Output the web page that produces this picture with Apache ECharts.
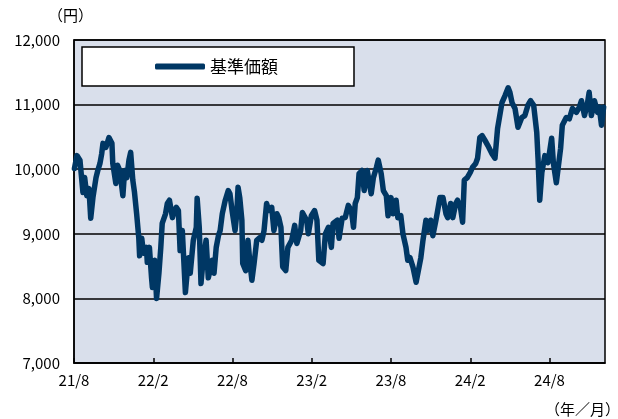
<!DOCTYPE html>
<html><head><meta charset="utf-8">
<script src="https://cdn.jsdelivr.net/npm/echarts@6/dist/echarts.min.js"></script>
<style>html,body{margin:0;padding:0;background:#fff}#c{width:618px;height:419px}</style>
</head><body><div id="c"></div>
<script>
const seriesName = '基準価額';
const yTicks = [7000, 8000, 9000, 10000, 11000, 12000];
const dates = [
'2021-08-02','2021-08-08','2021-08-15','2021-08-22','2021-08-26','2021-08-31','2021-09-05','2021-09-09','2021-09-14','2021-09-21',
'2021-09-25','2021-09-30','2021-10-04','2021-10-07','2021-10-14','2021-10-21','2021-10-28','2021-10-30','2021-11-06','2021-11-10',
'2021-11-15','2021-11-22','2021-11-26','2021-12-01','2021-12-06','2021-12-10','2021-12-15','2021-12-19','2021-12-24','2021-12-29',
'2021-12-31','2022-01-05','2022-01-09','2022-01-16','2022-01-18','2022-01-23','2022-01-28','2022-01-30','2022-02-04','2022-02-08',
'2022-02-13','2022-02-17','2022-02-20','2022-02-27','2022-03-03','2022-03-08','2022-03-15','2022-03-19','2022-03-24','2022-03-29',
'2022-04-02','2022-04-07','2022-04-14','2022-04-21','2022-04-25','2022-05-02','2022-05-09','2022-05-11','2022-05-16','2022-05-20',
'2022-05-25','2022-06-01','2022-06-06','2022-06-10','2022-06-15','2022-06-19','2022-06-24','2022-06-29','2022-07-03','2022-07-08',
'2022-07-15','2022-07-22','2022-07-26','2022-07-31','2022-08-07','2022-08-11','2022-08-14','2022-08-18','2022-08-23','2022-08-25',
'2022-09-01','2022-09-06','2022-09-10','2022-09-15','2022-09-20','2022-09-26','2022-10-03','2022-10-08','2022-10-13','2022-10-19',
'2022-10-24','2022-10-31','2022-11-05','2022-11-12','2022-11-16','2022-11-21','2022-11-25','2022-12-02','2022-12-07','2022-12-16',
'2022-12-23','2022-12-28','2023-01-06','2023-01-10','2023-01-20','2023-01-24','2023-01-31','2023-02-07','2023-02-12','2023-02-16',
'2023-02-25','2023-03-02','2023-03-09','2023-03-16','2023-03-20','2023-03-30','2023-04-03','2023-04-10','2023-04-17','2023-04-24',
'2023-05-01','2023-05-06','2023-05-10','2023-05-15','2023-05-19','2023-05-26','2023-05-31','2023-06-07','2023-06-09','2023-06-16',
'2023-06-21','2023-06-28','2023-07-02','2023-07-09','2023-07-14','2023-07-21','2023-07-25','2023-08-01','2023-08-06','2023-08-13',
'2023-08-17','2023-08-24','2023-08-29','2023-09-05','2023-09-09','2023-09-14','2023-09-21','2023-09-28','2023-10-02','2023-10-09',
'2023-10-14','2023-10-21','2023-10-25','2023-11-01','2023-11-06','2023-11-13','2023-11-17','2023-11-22','2023-11-29','2023-12-06',
'2023-12-10','2023-12-17','2023-12-22','2023-12-29','2024-01-02','2024-01-09','2024-01-14','2024-01-18','2024-01-25','2024-02-01',
'2024-02-06','2024-02-13','2024-02-17','2024-02-22','2024-02-27','2024-03-05','2024-03-11','2024-03-21','2024-03-28','2024-04-03',
'2024-04-13','2024-04-20','2024-04-27','2024-05-01','2024-05-06','2024-05-13','2024-05-20','2024-05-24','2024-05-29','2024-06-05',
'2024-06-12','2024-06-18','2024-06-25','2024-07-02','2024-07-05','2024-07-09','2024-07-14','2024-07-21','2024-07-28','2024-08-01',
'2024-08-06','2024-08-10','2024-08-17','2024-08-22','2024-08-27','2024-08-31','2024-09-09','2024-09-16','2024-09-23','2024-10-02',
'2024-10-09','2024-10-14','2024-10-21','2024-10-28','2024-11-01','2024-11-06','2024-11-13','2024-11-20','2024-11-24','2024-11-29',
'2024-12-04'
];
const navValues = [
10010,10210,10140,9640,9870,9590,9700,9240,9560,9870,
9980,10090,10240,10400,10340,10490,10400,10090,9780,10060,
9980,9590,9980,9870,10140,10260,9830,9640,9310,8940,
8660,8930,8700,8790,8560,8790,8320,8170,8590,8000,
8390,8790,9160,9310,9470,9520,9250,9330,9410,9360,
8740,9050,8090,8630,8390,8900,9100,9550,9100,8230,
8590,8900,8320,8430,8590,8390,8790,8970,9050,9310,
9520,9670,9620,9360,9050,9310,9720,9560,9210,8540,
8430,8900,8590,8280,8540,8900,8940,8900,9050,9470,
9360,9410,9050,9310,9250,9100,8490,8430,8790,8900,
9130,8850,9050,9330,9210,9000,9280,9360,9210,8590,
8540,9000,9100,8790,9160,9210,8930,9240,9250,9440,
9360,9100,9470,9560,9930,9980,9670,9980,10010,9620,
9870,10030,10140,9930,9670,9590,9280,9560,9310,9520,
9250,9280,9000,8790,8590,8630,8480,8250,8280,8630,
8900,9210,9050,9210,8970,9210,9360,9560,9560,9310,
9250,9470,9250,9470,9520,9410,9180,9830,9870,9950,
10030,10090,10170,10490,10520,10440,10370,10240,10170,10630,
11030,11140,11260,11190,11030,10940,10650,10630,10800,10830,
10990,11060,10990,10570,10170,9520,9950,10210,10100,10260,
10480,10100,9790,10060,10320,10680,10800,10780,10940,10880,
10960,11060,10830,11020,11190,10830,11060,10880,10960,10680,
10960
];
const startYear = 2021, startMonth = 8;   // x axis origin: 2021/8
const xMaxMonths = 40.2;

function monthOffset(s) {
  const [Y, M, D] = s.split('-').map(Number);
  const dim = new Date(Y, M, 0).getDate();
  return (Y - startYear) * 12 + (M - startMonth) + (D - 1) / dim;
}
const data = dates.map((d, i) => [monthOffset(d), navValues[i]]);

const chart = echarts.init(document.getElementById('c'), null, {renderer: 'canvas'});
const jp = "'Noto Sans CJK JP', sans-serif";
chart.setOption({
  animation: false,
  grid: {left: 74, right: 13, top: 40, bottom: 56, show: true, backgroundColor: '#D9DFEB', borderColor: '#000', borderWidth: 1.5},
  legend: {
    left: 82, top: 47, data: [seriesName],
    backgroundColor: '#fff', borderColor: '#000', borderWidth: 1.5, borderRadius: 0,
    padding: [11, 76, 11, 73],
    icon: 'roundRect', itemWidth: 50, itemHeight: 6, itemGap: 5,
    textStyle: {fontFamily: jp, fontSize: 17, color: '#000'}
  },
  xAxis: {
    type: 'value', min: 0, max: xMaxMonths, interval: 6,
    axisLine: {show: true, lineStyle: {color: '#000', width: 1.5}},
    axisTick: {show: true, inside: true, length: 5, lineStyle: {color: '#000', width: 1.5}},
    splitLine: {show: false},
    axisLabel: {
      margin: 10, fontFamily: jp, fontSize: 15, color: '#000', showMaxLabel: false,
      formatter: v => {
        if (Math.abs(v % 6) > 1e-6) return '';
        const t = (startMonth - 1) + v;
        return (startYear - 2000 + Math.floor(t / 12)) + '/' + (t % 12 + 1);
      }
    }
  },
  yAxis: {
    type: 'value', min: yTicks[0], max: yTicks[yTicks.length - 1], interval: 1000,
    axisLine: {show: true, lineStyle: {color: '#000', width: 1.5}},
    axisTick: {show: false},
    splitLine: {show: true, lineStyle: {color: '#000', width: 1.5}},
    axisLabel: {margin: 14, fontFamily: jp, fontSize: 15, color: '#000',
      formatter: v => v.toLocaleString('en-US')}
  },
  graphic: [
    {type: 'text', left: 48, top: 8, style: {text: '（円）', font: "15px 'Noto Sans CJK JP'", fill: '#000'}},
    {type: 'text', right: -2, top: 402, style: {text: '（年／月）', font: "15px 'Noto Sans CJK JP'", fill: '#000'}}
  ],
  series: [{
    name: seriesName, type: 'line', data: data, showSymbol: false, symbol: 'none',
    lineStyle: {color: '#003764', width: 5.5, cap: 'round', join: 'round'},
    itemStyle: {color: '#003764'}
  }]
});
</script></body></html>
